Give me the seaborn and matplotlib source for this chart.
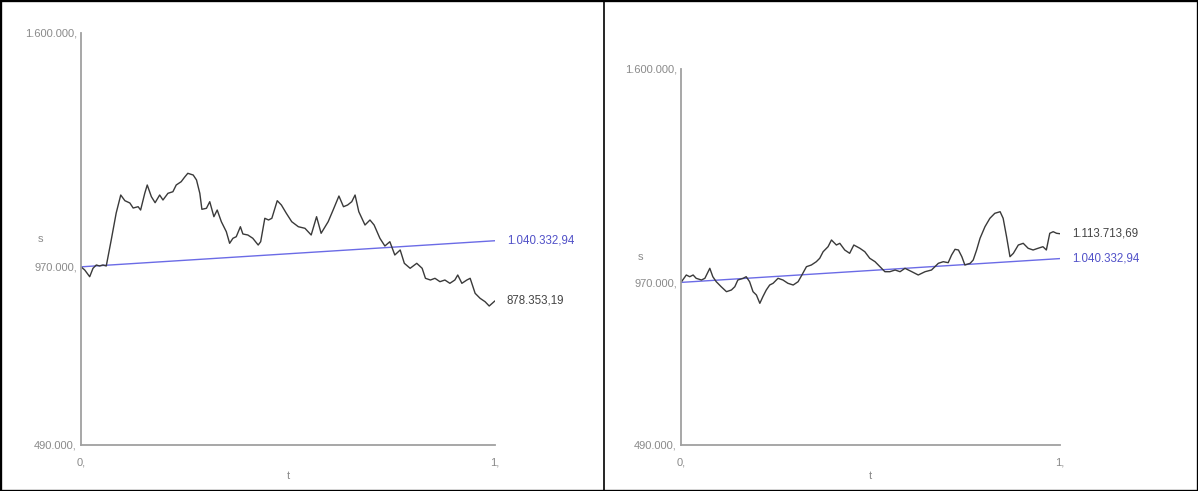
import numpy as np
import pandas as pd
import seaborn as sns
import matplotlib.pyplot as plt
from matplotlib.lines import Line2D
from matplotlib.patches import Rectangle
from matplotlib.transforms import blended_transform_factory

# Simulated price path, left panel
t_left = [0.000, 0.009, 0.021, 0.029, 0.037, 0.045, 0.053, 0.061, 0.073, 0.085,
          0.096, 0.106, 0.118, 0.126, 0.138, 0.144, 0.154, 0.160, 0.170, 0.179,
          0.190, 0.198, 0.210, 0.222, 0.230, 0.242, 0.250, 0.258, 0.271, 0.279,
          0.287, 0.292, 0.303, 0.311, 0.321, 0.329, 0.339, 0.351, 0.359, 0.367,
          0.375, 0.385, 0.391, 0.403, 0.415, 0.428, 0.434, 0.444, 0.453, 0.461,
          0.474, 0.484, 0.496, 0.509, 0.525, 0.541, 0.556, 0.569, 0.580, 0.597,
          0.609, 0.623, 0.634, 0.644, 0.654, 0.662, 0.671, 0.686, 0.698, 0.708,
          0.722, 0.734, 0.746, 0.758, 0.771, 0.781, 0.795, 0.811, 0.824, 0.832,
          0.844, 0.855, 0.867, 0.879, 0.891, 0.903, 0.910, 0.920, 0.932, 0.940,
          0.952, 0.964, 0.976, 0.986, 1.000]
s_left = [970000, 961500, 943400, 966100, 975000, 972300, 975000, 972300, 1042300, 1115000,
          1163500, 1148200, 1142000, 1128500, 1132000, 1123100, 1168100, 1190500, 1159000, 1142800,
          1163500, 1150100, 1168100, 1172400, 1190500, 1199400, 1211200, 1222000, 1217400, 1204000,
          1168100, 1125000, 1127700, 1145500, 1105100, 1123100, 1091600, 1064700, 1033400, 1046900,
          1051200, 1078100, 1058500, 1055800, 1046900, 1028800, 1037700, 1100800, 1096200, 1100800,
          1148200, 1136600, 1114200, 1091600, 1078100, 1073800, 1055800, 1105100, 1060400, 1091600,
          1123100, 1160800, 1132000, 1136600, 1145500, 1163500, 1118600, 1082700, 1096200, 1082700,
          1046900, 1026100, 1037700, 1001900, 1015400, 979500, 966100, 979500, 966100, 939100,
          934500, 939100, 930000, 934500, 925600, 934500, 948000, 925600, 934500, 939100,
          898700, 885200, 876100, 864500, 878353.19]

# Simulated price path, right panel
t_right = [0.000, 0.014, 0.023, 0.032, 0.040, 0.054, 0.063, 0.076, 0.084, 0.093,
           0.106, 0.120, 0.133, 0.142, 0.150, 0.164, 0.172, 0.181, 0.190, 0.199,
           0.208, 0.216, 0.225, 0.234, 0.243, 0.256, 0.269, 0.282, 0.296, 0.309,
           0.319, 0.331, 0.344, 0.357, 0.366, 0.375, 0.388, 0.397, 0.410, 0.419,
           0.432, 0.445, 0.456, 0.472, 0.485, 0.498, 0.512, 0.525, 0.538, 0.551,
           0.565, 0.578, 0.591, 0.609, 0.626, 0.644, 0.661, 0.670, 0.679, 0.692,
           0.705, 0.714, 0.723, 0.732, 0.741, 0.749, 0.763, 0.771, 0.780, 0.789,
           0.802, 0.815, 0.828, 0.842, 0.850, 0.859, 0.868, 0.877, 0.890, 0.903,
           0.916, 0.929, 0.942, 0.955, 0.964, 0.973, 0.982, 0.991, 1.000]
s_right = [970000, 991900, 986800, 991900, 982100, 977100, 982100, 1011600, 986800, 972100,
           957300, 942600, 947600, 957300, 977100, 982100, 986800, 972100, 942600, 932800,
           908300, 927800, 947600, 962300, 967400, 982100, 977100, 967400, 962300, 972100,
           991900, 1016400, 1021400, 1031100, 1041200, 1060600, 1075400, 1095200, 1080400, 1085400,
           1065700, 1055900, 1080400, 1070700, 1060600, 1041200, 1031100, 1016400, 1001600, 1001600,
           1006600, 1001600, 1011600, 1001600, 991900, 1001600, 1006600, 1016400, 1026400, 1031100,
           1028200, 1050900, 1067700, 1065700, 1045900, 1021400, 1026400, 1036100, 1065700, 1100200,
           1134400, 1159200, 1174000, 1178700, 1159200, 1104900, 1045900, 1055900, 1080400, 1085400,
           1070700, 1065700, 1070700, 1075400, 1065700, 1115000, 1119700, 1115000, 1113713.69]

# Expected value (drift line)
t_drift = [0.0, 1.0]
s_drift = [970000, 1040332.94]

y_ticks = [490000, 970000, 1600000]
y_tick_labels = ["490.000,", "970.000,", "1.600.000,"]
x_ticks = [0, 1]
x_tick_labels = ["0,", "1,"]


def euro(v):
    txt = f"{v:,.2f}"
    return txt.replace(",", "#").replace(".", ",").replace("#", ".")


sns.set_theme(style="white")
plt.rcParams['font.family'] = ['Liberation Sans', 'DejaVu Sans']

W, H = 1198, 491
fig = plt.figure(figsize=(W / 100, H / 100), dpi=100)

panels = [
    dict(rect=(81, 445, 414, 412), t=t_left, s=s_left),
    dict(rect=(681, 445, 379, 376), t=t_right, s=s_right),
]

path_color = "#3a3a3a"
drift_color = "#6b6be6"
tick_color = "#8a8a8a"

for p in panels:
    x0, ybot, w, h = p["rect"]
    ax = fig.add_axes([x0 / W, (H - ybot) / H, w / W, h / H])
    df = pd.DataFrame({"t": p["t"], "s": p["s"]})
    dd = pd.DataFrame({"t": t_drift, "s": s_drift})
    sns.lineplot(data=dd, x="t", y="s", ax=ax, color=drift_color, lw=1.0)
    sns.lineplot(data=df, x="t", y="s", ax=ax, color=path_color, lw=1.0)

    ax.set_xlim(0, 1)
    ax.set_ylim(490000, 1600000)
    ax.set_xticks(x_ticks)
    ax.set_xticklabels(x_tick_labels)
    ax.set_yticks(y_ticks)
    ax.set_yticklabels(y_tick_labels)
    ax.tick_params(axis="both", length=0, labelsize=8, colors=tick_color)
    ax.tick_params(axis="x", pad=9)
    ax.tick_params(axis="y", pad=3)
    for side in ("top", "right"):
        ax.spines[side].set_visible(False)
    for side in ("left", "bottom"):
        ax.spines[side].set_color("#a0a0a0")
        ax.spines[side].set_linewidth(1.3)

    ax.set_xlabel("t", fontsize=8, color=tick_color, va="center")
    ax.xaxis.set_label_coords(0.5, -31 / h)
    ax.set_ylabel("s", fontsize=8, color=tick_color, rotation=0, ha="center", va="center")
    ax.yaxis.set_label_coords(-41 / w, 0.5)

    trans = blended_transform_factory(ax.transAxes, ax.transData)
    ax.text(1 + 12 / w, p["s"][-1], euro(p["s"][-1]), transform=trans,
            ha="left", va="center", fontsize=8.3, color="#444444")
    ax.text(1 + 12 / w, s_drift[-1], euro(s_drift[-1]), transform=trans,
            ha="left", va="center", fontsize=8.3, color="#5151c8")

# Frame around both panels and divider between them
fig.add_artist(Rectangle((0, 0), 1, 1, transform=fig.transFigure, fill=False,
                         ec="black", lw=2.4))
fig.add_artist(Line2D([604 / W, 604 / W], [0, 1], transform=fig.transFigure,
                      color="black", lw=1.2))

fig.savefig("out.png", dpi=100)
